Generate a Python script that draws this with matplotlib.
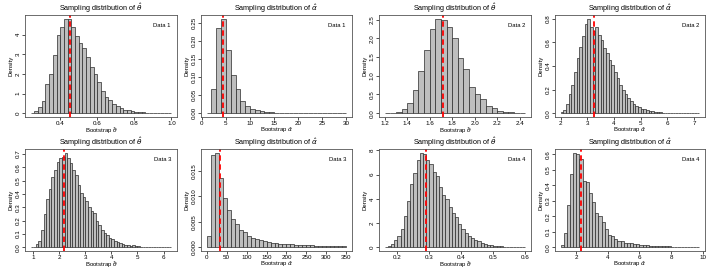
import numpy as np
import matplotlib.pyplot as plt

plt.rcParams['font.family'] = ['Liberation Sans', 'DejaVu Sans']
plt.rcParams['mathtext.fontset'] = 'dejavusans'

# -----------------------
# Histogram data (bin start, bin width, densities)
# -----------------------
theta1_start, theta1_width = 0.24, 0.02
theta1_dens = [0.02, 0.1, 0.32, 0.63, 1.48, 2.0, 2.97, 3.98, 4.38, 4.78,
               4.8, 4.38, 3.9, 3.55, 3.3, 2.85, 2.35, 2.0, 1.6, 1.15,
               0.82, 0.68, 0.45, 0.35, 0.25, 0.18, 0.15, 0.1, 0.08, 0.06,
               0.04, 0.03, 0.02, 0.015, 0.01, 0.008, 0.005, 0.004]

alpha1_start, alpha1_width = 1, 1
alpha1_dens = [0.001, 0.067, 0.237, 0.262, 0.176, 0.106, 0.067, 0.035, 0.021, 0.013,
               0.008, 0.006, 0.004, 0.003, 0.002, 0.0015, 0.001, 0.001, 0.0008, 0.0006,
               0.0005, 0.0004, 0.0003, 0.0003, 0.0002, 0.0002, 0.0002, 0.0001, 0.0001]

theta2_start, theta2_width = 1.2, 0.05
theta2_dens = [0.003, 0.01, 0.03, 0.1, 0.28, 0.63, 1.12, 1.7, 2.25, 2.52,
               2.48, 2.3, 2.02, 1.48, 1.17, 0.69, 0.52, 0.37, 0.2, 0.13,
               0.06, 0.04, 0.02, 0.01, 0.005]

alpha2_start, alpha2_width = 2.0, 0.1
alpha2_dens = [0.01, 0.03, 0.08, 0.16, 0.24, 0.35, 0.47, 0.56, 0.65, 0.76,
               0.80, 0.73, 0.70, 0.73, 0.66, 0.62, 0.55, 0.51, 0.45, 0.41,
               0.35, 0.3, 0.24, 0.2, 0.16, 0.13, 0.1, 0.08, 0.06, 0.05,
               0.04, 0.035, 0.03, 0.02, 0.015, 0.012, 0.01, 0.008, 0.006, 0.005,
               0.004, 0.003, 0.003, 0.002, 0.002, 0.002, 0.001, 0.001, 0.001, 0.001,
               0.001, 0.001]

theta3_start, theta3_width = 0.9, 0.1
theta3_dens = [0.002, 0.005, 0.025, 0.05, 0.13, 0.25, 0.36, 0.44, 0.53, 0.58,
               0.64, 0.67, 0.68, 0.71, 0.67, 0.63, 0.58, 0.54, 0.47, 0.41,
               0.38, 0.35, 0.3, 0.27, 0.26, 0.2, 0.17, 0.13, 0.11, 0.09,
               0.07, 0.06, 0.05, 0.04, 0.03, 0.025, 0.02, 0.013, 0.012, 0.015,
               0.008, 0.006, 0.005, 0.004, 0.004, 0.003, 0.003, 0.002, 0.002, 0.002,
               0.002, 0.001, 0.001, 0.001]

alpha3_start, alpha3_width = 0, 10
alpha3_dens = [0.0022, 0.0182, 0.0186, 0.0136, 0.0096, 0.0074, 0.0056, 0.0046, 0.0034, 0.0029,
               0.0023, 0.0019, 0.0016, 0.0014, 0.0012, 0.001, 0.0009, 0.0008, 0.0007, 0.0007,
               0.0006, 0.0006, 0.0005, 0.0005, 0.0004, 0.0004, 0.0004, 0.0003, 0.0003, 0.0003,
               0.0002, 0.0002, 0.0002, 0.0002, 0.0002]

theta4_start, theta4_width = 0.16, 0.01
theta4_dens = [0.02, 0.1, 0.3, 0.6, 0.9, 1.5, 2.6, 3.8, 5.2, 6.1,
               7.2, 7.8, 7.7, 7.2, 6.9, 6.2, 5.9, 5.0, 4.3, 4.0,
               3.3, 2.8, 2.5, 1.9, 1.5, 1.2, 0.9, 0.8, 0.6, 0.5,
               0.35, 0.25, 0.2, 0.15, 0.1, 0.08, 0.06, 0.05, 0.04, 0.03,
               0.02, 0.015, 0.01, 0.01]

alpha4_start, alpha4_width = 1.0, 0.2
alpha4_dens = [0.012, 0.09, 0.27, 0.47, 0.61, 0.60, 0.57, 0.43, 0.42, 0.35,
               0.29, 0.22, 0.2, 0.16, 0.12, 0.08, 0.07, 0.05, 0.04, 0.04,
               0.03, 0.03, 0.025, 0.02, 0.02, 0.015, 0.015, 0.012, 0.01, 0.01,
               0.008, 0.008, 0.006, 0.005, 0.005, 0.004, 0.004, 0.003, 0.003, 0.003,
               0.002, 0.002, 0.002, 0.002]

# point estimates (red dashed lines)
estimates = [0.45, 4.5, 1.72, 3.25, 2.18, 33, 0.288, 2.27]
params = ['theta', 'alpha'] * 4
data_labels = ['Data 1', 'Data 1', 'Data 2', 'Data 2', 'Data 3', 'Data 3', 'Data 4', 'Data 4']

xticks_list = [[0.4, 0.6, 0.8, 1.0], list(range(0, 31, 5)), [1.2, 1.4, 1.6, 1.8, 2.0, 2.2, 2.4],
               [2, 3, 4, 5, 6, 7], [1, 2, 3, 4, 5, 6], list(range(0, 351, 50)),
               [0.2, 0.3, 0.4, 0.5, 0.6], [2, 4, 6, 8, 10]]
yticks_list = [[0, 1, 2, 3, 4], [0, 0.05, 0.10, 0.15, 0.20, 0.25], [0, 0.5, 1.0, 1.5, 2.0, 2.5],
               [0, 0.2, 0.4, 0.6, 0.8], [0, 0.1, 0.2, 0.3, 0.4, 0.5, 0.6, 0.7],
               [0, 0.005, 0.010, 0.015], [0, 2, 4, 6, 8], [0, 0.1, 0.2, 0.3, 0.4, 0.5, 0.6]]
ytick_fmt = ['{:.0f}', '{:.2f}', '{:.1f}', '{:.1f}', '{:.1f}', '{:.3f}', '{:.0f}', '{:.1f}']
xtick_fmt = ['{:.1f}', '{:.0f}', '{:.1f}', '{:.0f}', '{:.0f}', '{:.0f}', '{:.1f}', '{:.0f}']

hists = [(theta1_start, theta1_width, theta1_dens), (alpha1_start, alpha1_width, alpha1_dens),
         (theta2_start, theta2_width, theta2_dens), (alpha2_start, alpha2_width, alpha2_dens),
         (theta3_start, theta3_width, theta3_dens), (alpha3_start, alpha3_width, alpha3_dens),
         (theta4_start, theta4_width, theta4_dens), (alpha4_start, alpha4_width, alpha4_dens)]

# -----------------------
# Layout (pixel boxes of the panels)
# -----------------------
W, H = 712, 269
col_left = [25, 201, 379, 555]
col_right = [177, 352, 531, 705]
row_top = [15, 149]
row_bottom = [117, 251]

fig = plt.figure(figsize=(W / 100, H / 100), dpi=100)

for i, (start, width, dens) in enumerate(hists):
    r, c = divmod(i, 4)
    l, rr = col_left[c], col_right[c]
    t, b = row_top[r], row_bottom[r]
    ax = fig.add_axes([l / W, 1 - b / H, (rr - l) / W, (b - t) / H])

    dens = np.array(dens)
    edges = start + width * np.arange(len(dens) + 1)
    ax.bar(edges[:-1], dens, width=width, align='edge',
           color='#bebebe', edgecolor='#2a2a2a', linewidth=0.5)
    ax.axvline(estimates[i], color='red', lw=1.3, ls=(0, (3, 2)))

    # R-style axis limits (4% padding)
    x0, x1 = edges[0], edges[-1]
    pad = 0.04 * (x1 - x0)
    ax.set_xlim(x0 - pad, x1 + pad)
    ymax = dens.max()
    ax.set_ylim(-0.04 * ymax, 1.04 * ymax)

    sym = r'\hat{\theta}' if params[i] == 'theta' else r'\hat{\alpha}'
    ax.set_title('Sampling distribution of $' + sym + '$', fontsize=5.2, pad=1.2)
    ax.set_xlabel('Bootstrap $' + sym + '$', fontsize=4.3, labelpad=-0.8)
    ax.set_ylabel('Density', fontsize=4.3, labelpad=2)

    xt = xticks_list[i]
    ax.set_xticks(xt)
    ax.set_xticklabels([xtick_fmt[i].format(v) for v in xt])
    yt = yticks_list[i]
    ax.set_yticks(yt)
    ax.set_yticklabels([ytick_fmt[i].format(v) for v in yt], rotation=90, va='center')

    ax.tick_params(direction='out', length=2, width=0.6, labelsize=4.5, pad=1,
                   color='#333333')
    for s in ax.spines.values():
        s.set_color('#555555')
        s.set_linewidth(0.6)

    ax.text(0.96, 0.92, data_labels[i], transform=ax.transAxes,
            ha='right', va='top', fontsize=4.2)

fig.savefig('out.png', dpi=100)
